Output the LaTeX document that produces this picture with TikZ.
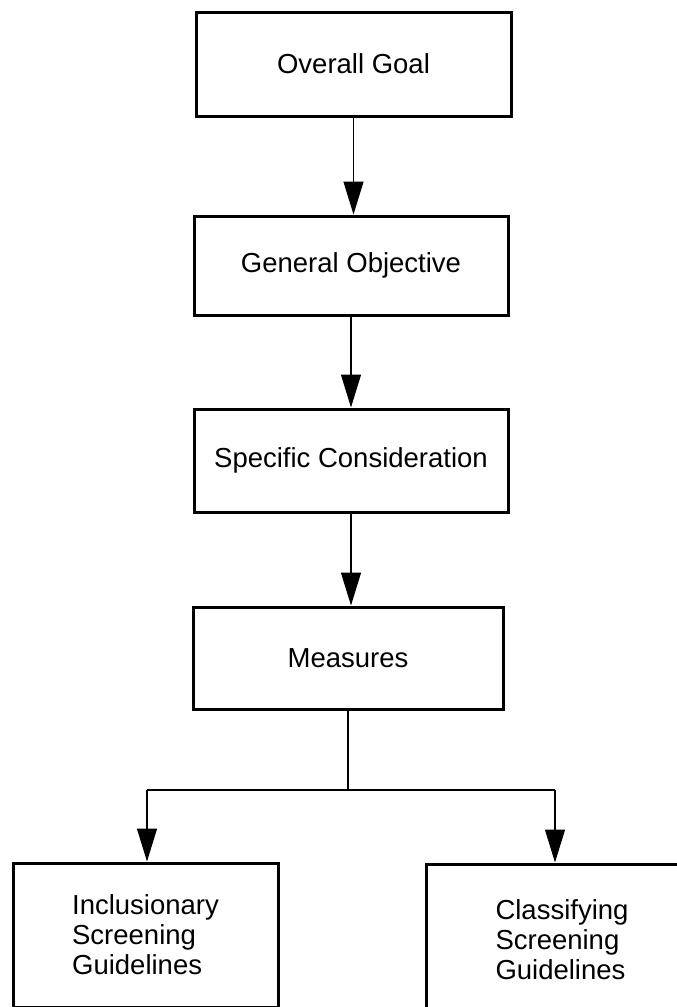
\documentclass[tikz,border=0pt]{standalone}
\usepackage{fontspec}
\setmainfont{Liberation Sans}
\usetikzlibrary{arrows.meta}
\tikzset{
  box/.style={draw, line width=3pt, inner sep=0pt, font=\fontsize{27.5}{30}\selectfont},
  conn/.style={line width=1.3pt},
  arr/.style={conn, -{Triangle[length=33pt,width=20pt]}},
}
\begin{document}
\begin{tikzpicture}[x=1pt,y=-1pt]
\useasboundingbox (0,0) rectangle (677,1007);
\clip (0,0) rectangle (677,1007);
\node[box, minimum width=315pt, minimum height=104pt] (goal) at (353.5,64) {Overall Goal};
\node[box, minimum width=314pt, minimum height=99pt] (obj) at (351,265.5) {General Objective};
\node[box, minimum width=314pt, minimum height=103pt] (spec) at (351,460.5) {Specific Consideration};
\node[box, minimum width=310pt, minimum height=102pt] (meas) at (348,658) {Measures};
\node[box, align=left, minimum width=265pt, minimum height=144pt] (incl) at (145.5,935) {Inclusionary\\Screening\\Guidelines};
\node[box, align=left, minimum width=272pt, minimum height=152pt] (class) at (562,940) {Classifying\\Screening\\Guidelines};
\draw[arr] (goal.south) -- (goal.south |- obj.north);
\draw[arr] (obj.south) -- (obj.south |- spec.north);
\draw[arr] (spec.south) -- (spec.south |- meas.north);
\coordinate (j) at (348,790);
\coordinate (jl) at (147,790);
\coordinate (jr) at (555,790);
\draw[conn] (meas.south) -- (j);
\draw[conn] (jl) -- (jr);
\draw[arr] (jl) -- (jl |- incl.north);
\draw[arr] (jr) -- (jr |- class.north);
\end{tikzpicture}
\end{document}
